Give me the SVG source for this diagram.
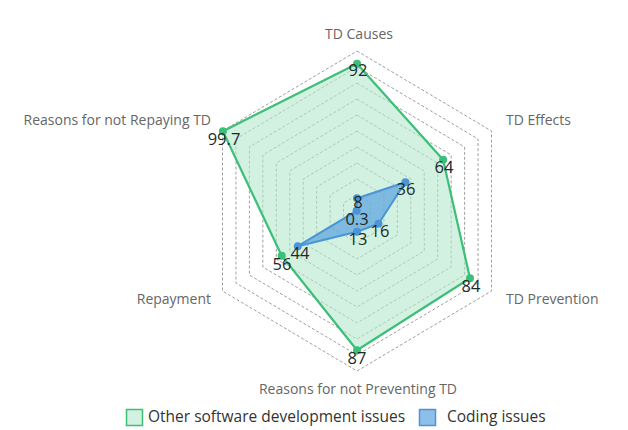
<svg xmlns="http://www.w3.org/2000/svg" width="628" height="430" viewBox="0 0 628 430">
<style>
.grid{fill:none;stroke:#a0a0a0;stroke-width:1;stroke-dasharray:3,2}
.axis{font-family:"Open Sans","Noto Sans",sans-serif;font-size:14px;fill:#666666}
.val{font-family:"Open Sans","Noto Sans",sans-serif;font-size:16.5px;fill:#1e2a2a;text-anchor:middle}
.leg{font-family:"Open Sans","Noto Sans",sans-serif;font-size:15.5px;fill:#333}
.gdot{fill:#3cbf78}
.bdot{fill:#4b94d6}
</style>
<rect width="628" height="430" fill="#ffffff"/>
<g id="grid">
<polygon class="grid" points="357,195 370.45,203 370.45,219 357,227 343.55,219 343.55,203"/>
<polygon class="grid" points="357,179 383.9,195 383.9,227 357,243 330.1,227 330.1,195"/>
<polygon class="grid" points="357,163 397.35,187 397.35,235 357,259 316.65,235 316.65,187"/>
<polygon class="grid" points="357,147 410.8,179 410.8,243 357,275 303.2,243 303.2,179"/>
<polygon class="grid" points="357,131 424.25,171 424.25,251 357,291 289.75,251 289.75,171"/>
<polygon class="grid" points="357,115 437.7,163 437.7,259 357,307 276.3,259 276.3,163"/>
<polygon class="grid" points="357,99 451.15,155 451.15,267 357,323 262.85,267 262.85,155"/>
<polygon class="grid" points="357,83 464.6,147 464.6,275 357,339 249.4,275 249.4,147"/>
<polygon class="grid" points="357,67 478.05,139 478.05,283 357,355 235.95,283 235.95,139"/>
<polygon class="grid" points="357,51 491.5,131 491.5,291 357,371 222.5,291 222.5,131"/>
</g>
<g id="axis-labels">
<text class="axis" x="359" y="39" text-anchor="middle">TD Causes</text>
<text class="axis" x="506" y="125">TD Effects</text>
<text class="axis" x="506" y="304">TD Prevention</text>
<text class="axis" x="358" y="394" text-anchor="middle">Reasons for not Preventing TD</text>
<text class="axis" x="211" y="304" text-anchor="end">Repayment</text>
<text class="axis" x="211" y="125" text-anchor="end">Reasons for not Repaying TD</text>
</g>
<g id="series-other">
<polygon points="357,63.8 443.1,159.8 470,278.2 357,350.2 281.7,255.8 222.9,131.2" fill="#b5e8cc" fill-opacity="0.6" stroke="#3cbf78" stroke-width="2.2" stroke-linejoin="round"/>
<circle class="gdot" cx="357" cy="63.8" r="4"/>
<circle class="gdot" cx="443.1" cy="159.8" r="4"/>
<circle class="gdot" cx="470" cy="278.2" r="4"/>
<circle class="gdot" cx="357" cy="350.2" r="4"/>
<circle class="gdot" cx="281.7" cy="255.8" r="4"/>
<circle class="gdot" cx="222.9" cy="131.2" r="4"/>
</g>
<g id="series-coding">
<polygon points="357,198.2 405.4,182.2 378.5,223.8 357,231.8 297.8,246.2 356.6,210.8" fill="#5aa3de" fill-opacity="0.7" stroke="#4b94d6" stroke-width="2" stroke-linejoin="round"/>
<circle class="bdot" cx="357" cy="198.2" r="4"/>
<circle class="bdot" cx="405.4" cy="182.2" r="4"/>
<circle class="bdot" cx="378.5" cy="223.8" r="4"/>
<circle class="bdot" cx="357" cy="231.8" r="4"/>
<circle class="bdot" cx="297.8" cy="246.2" r="4"/>
<circle class="bdot" cx="356.6" cy="210.8" r="4"/>
</g>
<g id="value-labels">
<text class="val" x="358" y="76">92</text>
<text class="val" x="444" y="173">64</text>
<text class="val" x="471" y="292">84</text>
<text class="val" x="357" y="364">87</text>
<text class="val" x="282" y="270">56</text>
<text class="val" x="224" y="145">99.7</text>
<text class="val" x="358" y="208">8</text>
<text class="val" x="406" y="195">36</text>
<text class="val" x="380" y="237">16</text>
<text class="val" x="358" y="245">13</text>
<text class="val" x="300" y="259">44</text>
<text class="val" x="357" y="225">0.3</text>
</g>
<g id="legend">
<rect x="126.5" y="409.5" width="16" height="16" fill="#d3f1e0" stroke="#3cbf78" stroke-width="1.5"/>
<text class="leg" x="148" y="422">Other software development issues</text>
<rect x="419.5" y="409.5" width="16" height="16" fill="#8cc0ea" stroke="#4b94d6" stroke-width="1.5"/>
<text class="leg" x="447" y="422">Coding issues</text>
</g>
</svg>
